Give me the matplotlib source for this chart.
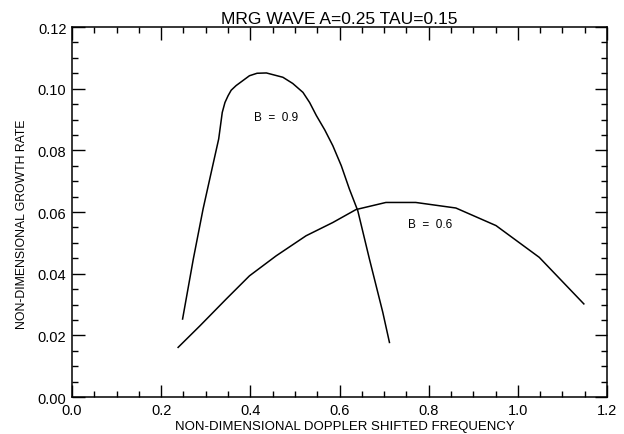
import numpy as np
import matplotlib.pyplot as plt
from matplotlib.ticker import MultipleLocator

plt.rcParams['font.family'] = ['Liberation Sans', 'DejaVu Sans']

# B = 0.9 curve
freq_b09 = [0.248, 0.272, 0.294, 0.314, 0.329, 0.337, 0.343, 0.350, 0.357, 0.368,
            0.398, 0.415, 0.436, 0.473, 0.495, 0.518, 0.533, 0.548, 0.567, 0.585,
            0.604, 0.622, 0.641, 0.667, 0.697, 0.712]
rate_b09 = [0.0253, 0.0447, 0.0610, 0.0740, 0.0837, 0.0923, 0.0955, 0.0977, 0.0995, 0.1010,
            0.1042, 0.1050, 0.1051, 0.1037, 0.1017, 0.0988, 0.0955, 0.0913, 0.0866, 0.0815,
            0.0750, 0.0675, 0.0604, 0.0448, 0.0275, 0.0177]

# B = 0.6 curve
freq_b06 = [0.238, 0.287, 0.346, 0.398, 0.458, 0.525, 0.585, 0.637, 0.704,
            0.771, 0.861, 0.951, 1.048, 1.148]
rate_b06 = [0.0161, 0.0231, 0.0318, 0.0393, 0.0458, 0.0523, 0.0566, 0.0608, 0.0631,
            0.0631, 0.0613, 0.0556, 0.0453, 0.0302]

fig = plt.figure(figsize=(6.24, 4.35), dpi=100)
ax = fig.add_axes([0.1154, 0.085, 0.8574, 0.8506])

ax.plot(freq_b09, rate_b09, color='black', lw=1.1)
ax.plot(freq_b06, rate_b06, color='black', lw=1.1)

ax.text(0.457, 0.0908, 'B  =  0.9', fontsize=8.5, ha='center', va='center')
ax.text(0.804, 0.0561, 'B  =  0.6', fontsize=8.5, ha='center', va='center')

ax.set_xlim(0.0, 1.2)
ax.set_ylim(0.0, 0.12)
ax.xaxis.set_major_locator(MultipleLocator(0.2))
ax.xaxis.set_minor_locator(MultipleLocator(0.05))
ax.yaxis.set_major_locator(MultipleLocator(0.02))
ax.yaxis.set_minor_locator(MultipleLocator(0.005))
ax.xaxis.set_major_formatter(plt.FuncFormatter(lambda v, p: f'{v:.1f}'))
ax.yaxis.set_major_formatter(plt.FuncFormatter(lambda v, p: f'{v:.2f}'))
ax.tick_params(which='both', direction='in', top=True, right=True, width=1, labelsize=10.5)
ax.tick_params(which='major', length=9, pad=4)
ax.tick_params(which='minor', length=4.5)
for s in ax.spines.values():
    s.set_linewidth(1.1)

ax.set_title('MRG WAVE A=0.25 TAU=0.15', fontsize=12.5, pad=3)
ax.set_xlabel('NON-DIMENSIONAL DOPPLER SHIFTED FREQUENCY', fontsize=9.5)
ax.xaxis.set_label_coords(0.51, -0.062)
ax.set_ylabel('NON-DIMENSIONAL GROWTH RATE', fontsize=8.8)
ax.yaxis.set_label_coords(-0.082, 0.47)

fig.savefig('out.png', dpi=100)
